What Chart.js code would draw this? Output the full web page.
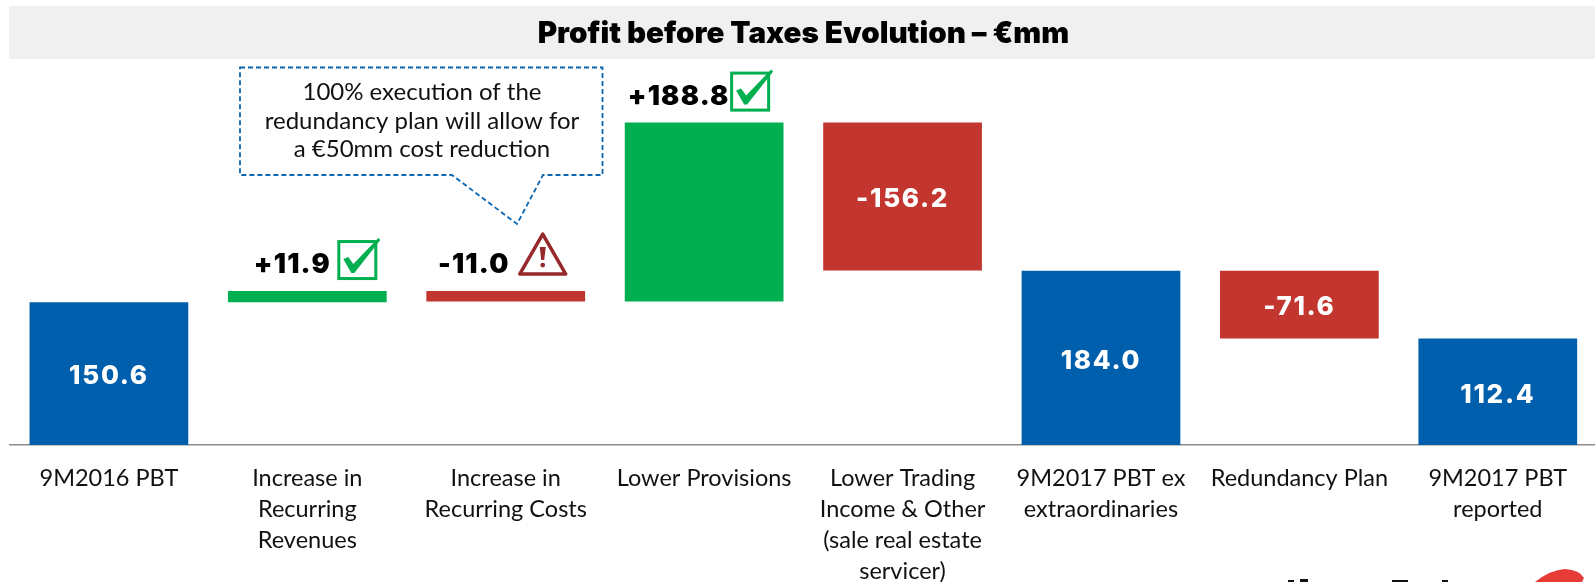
<!DOCTYPE html>
<html>
<head>
<meta charset="utf-8">
<title>Profit before Taxes Evolution</title>
<script src="https://cdn.jsdelivr.net/npm/chart.js@4"></script>
<style>
    html, body { margin: 0; padding: 0; background: #fff; overflow: hidden; width: 1595px; height: 582px; }
    canvas { display: block; }
</style>
</head>
<body>
<canvas id="myChart" width="1606" height="582"></canvas>
<script>
// values, €mm
const categories = [
    ['9M2016 PBT'],
    ['Increase in', 'Recurring', 'Revenues'],
    ['Increase in', 'Recurring Costs'],
    ['Lower Provisions'],
    ['Lower Trading', 'Income & Other', '(sale real estate', 'servicer)'],
    ['9M2017 PBT ex', 'extraordinaries'],
    ['Redundancy Plan'],
    ['9M2017 PBT', 'reported'],
];
const barStart = [0, 150.6, 151.5, 151.5, 184.1, 0, 112.4, 0];
const barEnd = [150.6, 162.5, 162.5, 340.3, 340.3, 184.0, 184.0, 112.4];
const insideLabels = ['150.6', '', '', '', '-156.2', '184.0', '-71.6', '112.4'];
const aboveLabels = ['', '+11.9', '-11.0', '+188.8', '', '', '', ''];
const aboveIcons = ['', 'check', 'warn', 'check', '', '', '', ''];
const calloutLines = ['100% execution of the', 'redundancy plan will allow for', 'a €50mm cost reduction'];

// styling, not data
const barColors = ['#005FAD', '#00B050', '#C3352F', '#00B050', '#C3352F', '#005FAD', '#C3352F', '#005FAD'];
const aboveTextShift = [0, -15, -32, -25.5, 0, 0, 0, 0];
const aboveIconShift = [0, 30, 37, 26, 0, 0, 0, 0];

const FONT = 'Lato, "Open Sans", sans-serif';
const HEAVY = 'Inter, "Open Sans", sans-serif';

function drawCheck(ctx, x, y) {
    // x,y = top left of the 40px box
    ctx.save();
    ctx.strokeStyle = '#00B050';
    ctx.lineWidth = 3;
    ctx.strokeRect(x + 1.5, y + 1.5, 37, 37);
    ctx.fillStyle = '#00B050';
    ctx.beginPath();
    ctx.moveTo(x + 6, y + 19);
    ctx.lineTo(x + 11, y + 17);
    ctx.lineTo(x + 16, y + 24);
    ctx.lineTo(x + 41, y - 2);
    ctx.lineTo(x + 43, y);
    ctx.lineTo(x + 17, y + 33);
    ctx.lineTo(x + 14, y + 33);
    ctx.closePath();
    ctx.fill();
    ctx.restore();
}

function drawWarn(ctx, x, y) {
    // x = apex, y = top of the triangle
    ctx.save();
    ctx.strokeStyle = '#97292B';
    ctx.fillStyle = '#97292B';
    ctx.lineWidth = 3.5;
    ctx.lineJoin = 'round';
    ctx.beginPath();
    ctx.moveTo(x, y + 2);
    ctx.lineTo(x + 23, y + 42);
    ctx.lineTo(x - 23, y + 42);
    ctx.closePath();
    ctx.stroke();
    ctx.beginPath();
    ctx.moveTo(x - 3, y + 15);
    ctx.lineTo(x + 3, y + 15);
    ctx.lineTo(x + 1.5, y + 28);
    ctx.lineTo(x - 1.5, y + 28);
    ctx.closePath();
    ctx.fill();
    ctx.beginPath();
    ctx.arc(x, y + 33, 2.4, 0, Math.PI * 2);
    ctx.fill();
    ctx.restore();
}

// bits of the page logo that the crop left at the bottom edge
function drawLogoScraps(ctx) {
    ctx.save();
    ctx.fillStyle = '#E63B37';
    ctx.beginPath();
    ctx.moveTo(1535, 582);
    ctx.quadraticCurveTo(1550, 570, 1565, 569);
    ctx.quadraticCurveTo(1580, 570, 1584, 578);
    ctx.lineTo(1582, 582);
    ctx.closePath();
    ctx.fill();
    ctx.fillStyle = '#111';
    ctx.fillRect(1288, 580, 6, 2);
    ctx.fillRect(1300, 579, 8, 3);
    ctx.fillRect(1392, 580, 16, 2);
    ctx.fillRect(1442, 580, 6, 2);
    ctx.restore();
}

const waterfallExtras = {
    id: 'waterfallExtras',
    beforeDraw(chart) {
        const t = chart.titleBlock;
        chart.ctx.save();
        chart.ctx.fillStyle = '#F0F0F0';
        chart.ctx.fillRect(9, t.top, 1606 - 9, t.height);
        chart.ctx.restore();
    },
    afterDatasetsDraw(chart) {
        const ctx = chart.ctx;
        const xs = chart.scales.x;
        const ys = chart.scales.y;
        ctx.save();
        ctx.textAlign = 'center';

        // labels inside the bars
        ctx.fillStyle = '#fff';
        ctx.font = '800 26px ' + HEAVY;
        ctx.letterSpacing = '1.7px';
        ctx.textBaseline = 'middle';
        insideLabels.forEach((txt, i) => {
            if (!txt) return;
            const mid = ys.getPixelForValue((barStart[i] + barEnd[i]) / 2);
            ctx.fillText(txt, xs.getPixelForValue(i), mid + 3);
        });

        // labels and icons above the bars
        ctx.fillStyle = '#000';
        ctx.textBaseline = 'alphabetic';
        ctx.font = '900 27px ' + HEAVY;
        ctx.letterSpacing = '1.2px';
        aboveLabels.forEach((txt, i) => {
            if (!txt) return;
            const cx = xs.getPixelForValue(i);
            const base = ys.getPixelForValue(barEnd[i]) - 18;
            ctx.fillText(txt, cx + aboveTextShift[i], base);
            if (aboveIcons[i] == 'check') drawCheck(ctx, cx + aboveIconShift[i], base - 33);
            if (aboveIcons[i] == 'warn') drawWarn(ctx, cx + aboveIconShift[i], base - 41);
        });
        ctx.letterSpacing = '0px';

        // callout
        ctx.strokeStyle = '#0A66B0';
        ctx.lineWidth = 1.8;
        ctx.setLineDash([5, 3]);
        ctx.beginPath();
        ctx.moveTo(240, 67.5);
        ctx.lineTo(602.5, 67.5);
        ctx.lineTo(602.5, 175);
        ctx.lineTo(543, 175);
        ctx.lineTo(517, 224);
        ctx.lineTo(452, 175);
        ctx.lineTo(240, 175);
        ctx.closePath();
        ctx.stroke();
        ctx.setLineDash([]);
        ctx.fillStyle = '#111';
        ctx.font = '24px ' + FONT;
        calloutLines.forEach((line, i) => {
            ctx.fillText(line, 422, 100 + i * 28.7);
        });

        drawLogoScraps(ctx);
        ctx.restore();
    }
};

new Chart(document.getElementById('myChart'), {
    type: 'bar',
    data: {
        labels: categories,
        datasets: [{
            data: barStart.map((s, i) => [s, barEnd[i]]),
            backgroundColor: barColors,
            borderWidth: 0,
            borderSkipped: false,
            barPercentage: 0.8,
            categoryPercentage: 1,
        }]
    },
    options: {
        responsive: false,
        animation: false,
        layout: { padding: { left: 9.7, right: 9, top: 6, bottom: 0 } },
        plugins: {
            legend: { display: false },
            tooltip: { enabled: false },
            title: {
                display: true,
                text: 'Profit before Taxes Evolution – €mm',
                color: '#000',
                font: { family: HEAVY, size: 29.6, weight: '900', lineHeight: 1.2 },
                padding: { top: 10, bottom: 7.5 },
            },
        },
        scales: {
            x: {
                grid: { display: false },
                border: { color: '#8C8C8C', width: 1.5 },
                afterFit(scale) { scale.height = 137; },
                ticks: {
                    autoSkip: false,
                    maxRotation: 0,
                    color: '#111',
                    padding: 10,
                    font: { family: FONT, size: 23.5, lineHeight: 1.32 },
                },
            },
            y: {
                display: false,
                min: 0,
                max: 407.4,
            },
        },
    },
    plugins: [waterfallExtras],
});
</script>
</body>
</html>
